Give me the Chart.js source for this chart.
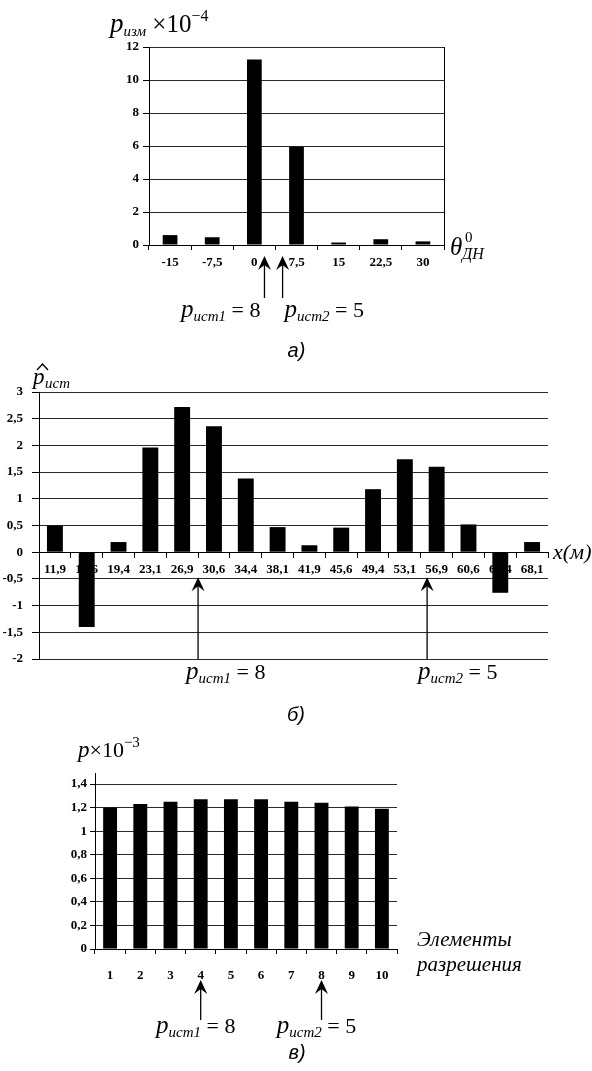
<!DOCTYPE html>
<html lang="ru">
<head>
<meta charset="utf-8">
<title>Оценка мощности источников</title>
<script src="https://cdn.jsdelivr.net/npm/chart.js@4.4.1/dist/chart.umd.min.js"></script>
<style>
    html, body { margin: 0; padding: 0; background: #fff; }
    body { position: relative; width: 592px; height: 1071px; overflow: hidden; }
    canvas { position: absolute; left: 0; }
    #chartA { top: 0; }
    #chartB { top: 355px; }
    #chartC { top: 730px; }
</style>
</head>
<body>
<canvas id="chartA" width="592" height="370"></canvas>
<canvas id="chartB" width="592" height="385"></canvas>
<canvas id="chartC" width="592" height="341"></canvas>
<script>
// а) измеренная мощность по направлениям ДН
const anglesA = ['-15', '-7,5', '0', '7,5', '15', '22,5', '30'];
const powerA = [0.6, 0.47, 11.25, 5.96, 0.15, 0.35, 0.22];
const arrowsA = [2.24, 2.67];   // положения стрелок в долях категорий

// б) оценка мощности по дальности
const coordsB = ['11,9', '15,6', '19,4', '23,1', '26,9', '30,6', '34,4', '38,1',
                 '41,9', '45,6', '49,4', '53,1', '56,9', '60,6', '64,4', '68,1'];
const estimateB = [0.5, -1.4, 0.19, 1.96, 2.72, 2.36, 1.38, 0.47,
                   0.13, 0.46, 1.18, 1.74, 1.6, 0.52, -0.76, 0.19];
const arrowsB = [4.5, 11.7];

// в) мощность по элементам разрешения
const elementsC = ['1', '2', '3', '4', '5', '6', '7', '8', '9', '10'];
const powerC = [1.2, 1.23, 1.25, 1.27, 1.27, 1.27, 1.25, 1.24, 1.21, 1.19];
const arrowsC = [3, 7];

// мощности истинных источников
const sourcePowers = [8, 5];

const SERIF = '"Liberation Serif", "Times New Roman", serif';
const SANS = '"Liberation Sans", Arial, sans-serif';
const tickFont = { family: SERIF, size: 13, weight: 'bold' };

function fmt(v) {
    return String(Math.round(v * 10) / 10).replace('.', ',');
}

// текст из нескольких частей (индексы, степени)
function rich(ctx, x, y, parts, align) {
    let w = 0;
    parts.forEach(p => { ctx.font = p[1]; w += ctx.measureText(p[0]).width; });
    if (align === 'center') x -= w / 2;
    if (align === 'right') x -= w;
    ctx.textAlign = 'left';
    ctx.textBaseline = 'alphabetic';
    parts.forEach(p => {
        ctx.font = p[1];
        ctx.fillText(p[0], x, y + (p[2] || 0));
        x += ctx.measureText(p[0]).width;
    });
}

function sourceLabel(ctx, x, y, n, align) {
    rich(ctx, x, y, [
        ['p', 'italic 25px ' + SERIF],
        ['ист' + n, 'italic 15px ' + SERIF, 4],
        [' = ' + sourcePowers[n - 1], '22px ' + SERIF]
    ], align);
}

function arrow(ctx, x, yTip, yEnd) {
    ctx.strokeStyle = '#000';
    ctx.lineWidth = 1.3;
    ctx.beginPath();
    ctx.moveTo(x, yTip + 8);
    ctx.lineTo(x, yEnd);
    ctx.stroke();
    ctx.beginPath();
    ctx.moveTo(x, yTip);
    ctx.lineTo(x - 6.5, yTip + 14);
    ctx.lineTo(x, yTip + 9);
    ctx.lineTo(x + 6.5, yTip + 14);
    ctx.closePath();
    ctx.fill();
}

function caption(ctx, text, x, y) {
    ctx.font = 'italic 20px ' + SANS;
    ctx.textAlign = 'center';
    ctx.textBaseline = 'middle';
    ctx.fillText(text, x, y);
}

function makeChart(id, labels, values, cfg) {
    const ctx = document.getElementById(id).getContext('2d');
    return new Chart(ctx, {
        type: 'bar',
        data: {
            labels: labels,
            datasets: [{
                data: values,
                backgroundColor: '#000',
                borderWidth: 0,
                categoryPercentage: 1,
                barPercentage: cfg.barPct
            }]
        },
        options: {
            responsive: false,
            animation: false,
            devicePixelRatio: 1,
            layout: { padding: cfg.padding },
            plugins: {
                legend: { display: false },
                tooltip: { enabled: false }
            },
            scales: {
                x: {
                    type: 'category',
                    offset: true,
                    position: cfg.xPos || 'bottom',
                    grid: {
                        offset: true,
                        drawOnChartArea: false,
                        drawTicks: true,
                        tickLength: 5,
                        color: '#000'
                    },
                    border: { display: true, color: '#000', width: 1 },
                    ticks: {
                        font: tickFont,
                        color: '#000',
                        padding: cfg.xPad,
                        maxRotation: 0,
                        autoSkip: false
                    },
                    afterFit: cfg.xHeight ? function(s) { s.height = cfg.xHeight; } : undefined
                },
                y: {
                    min: cfg.yMin,
                    max: cfg.yMax,
                    ticks: {
                        stepSize: cfg.yStep,
                        font: tickFont,
                        color: '#000',
                        padding: cfg.yPad,
                        callback: fmt
                    },
                    grid: {
                        color: '#2a2a2a',
                        lineWidth: 1,
                        drawTicks: true,
                        tickLength: cfg.yTick,
                        tickColor: '#000'
                    },
                    border: { display: true, color: '#000', width: 1 },
                    afterFit: function(s) { s.width = cfg.yWidth; }
                }
            }
        },
        plugins: [{ id: id + 'Notes', afterDraw: cfg.notes }]
    });
}

// а)
makeChart('chartA', anglesA, powerA, {
    barPct: 0.35,
    padding: { left: 104, right: 148, top: 47, bottom: 95 },
    yWidth: 45, yMin: 0, yMax: 12, yStep: 2, yPad: 4, yTick: 6,
    xPad: 5, xHeight: 30,
    notes: function(chart) {
        const ctx = chart.ctx, ca = chart.chartArea, sx = chart.scales.x;
        ctx.save();
        ctx.fillStyle = '#000';
        // рамка справа
        ctx.strokeStyle = '#000';
        ctx.lineWidth = 1;
        ctx.beginPath();
        ctx.moveTo(ca.right + 0.5, ca.top);
        ctx.lineTo(ca.right + 0.5, ca.bottom);
        ctx.stroke();
        rich(ctx, ca.left - 39, ca.top - 15, [
            ['p', 'italic 27px ' + SERIF],
            ['изм', 'italic 15px ' + SERIF, 4],
            [' ×10', '25px ' + SERIF],
            ['−4', '16px ' + SERIF, -11]
        ]);
        const tx = ca.right + 6;
        rich(ctx, tx, ca.bottom + 10, [['θ', 'italic 25px ' + SERIF]]);
        rich(ctx, tx + 15, ca.bottom - 3, [['0', '15px ' + SERIF]]);
        rich(ctx, tx + 12, ca.bottom + 14, [['ДН', 'italic 16px ' + SERIF]]);
        const x1 = sx.getPixelForValue(arrowsA[0]);
        const x2 = sx.getPixelForValue(arrowsA[1]);
        arrow(ctx, x1, ca.bottom + 11, ca.bottom + 53);
        arrow(ctx, x2, ca.bottom + 11, ca.bottom + 53);
        sourceLabel(ctx, x1 - 4, ca.bottom + 72, 1, 'right');
        sourceLabel(ctx, x2 + 2, ca.bottom + 72, 2, 'left');
        caption(ctx, 'а)', (ca.left + ca.right) / 2, 351);
        ctx.restore();
    }
});

// б)
makeChart('chartB', coordsB, estimateB, {
    barPct: 0.5,
    padding: { left: 1, right: 44, top: 37, bottom: 81 },
    yWidth: 38, yMin: -2, yMax: 3, yStep: 0.5, yPad: 9, yTick: 7,
    xPad: 5, xPos: { y: 0 },
    notes: function(chart) {
        const ctx = chart.ctx, ca = chart.chartArea, sx = chart.scales.x, sy = chart.scales.y;
        const y0 = sy.getPixelForValue(0);
        ctx.save();
        ctx.fillStyle = '#000';
        ctx.strokeStyle = '#000';
        const px = ca.left - 6, pb = ca.top - 8;
        rich(ctx, px, pb, [['p', 'italic 23px ' + SERIF]]);
        // крышечка оценки
        ctx.lineWidth = 1.4;
        ctx.beginPath();
        ctx.moveTo(px + 4, pb - 14);
        ctx.lineTo(px + 9.5, pb - 20);
        ctx.lineTo(px + 15, pb - 14);
        ctx.stroke();
        rich(ctx, px + 12, pb + 4, [['ист', 'italic 15px ' + SERIF]]);
        rich(ctx, ca.right + 5, y0 + 7, [['x(м)', 'italic 22px ' + SERIF]]);
        const x1 = sx.getPixelForValue(arrowsB[0]);
        const x2 = sx.getPixelForValue(arrowsB[1]);
        arrow(ctx, x1, y0 + 25, ca.bottom);
        arrow(ctx, x2, y0 + 25, ca.bottom);
        sourceLabel(ctx, x1 - 12, ca.bottom + 20, 1, 'left');
        sourceLabel(ctx, x2 - 9, ca.bottom + 20, 2, 'left');
        caption(ctx, 'б)', 296, 360);
        ctx.restore();
    }
});

// в)
makeChart('chartC', elementsC, powerC, {
    barPct: 0.46,
    padding: { left: 59, right: 195, top: 54, bottom: 82 },
    yWidth: 36, yMin: 0, yMax: 1.4, yStep: 0.2, yPad: 3, yTick: 5,
    xPad: 14, xHeight: 40,
    notes: function(chart) {
        const ctx = chart.ctx, ca = chart.chartArea, sx = chart.scales.x;
        ctx.save();
        ctx.fillStyle = '#000';
        ctx.strokeStyle = '#000';
        ctx.lineWidth = 1;
        ctx.beginPath();
        ctx.moveTo(ca.left + 0.5, ca.top - 11);
        ctx.lineTo(ca.left + 0.5, ca.top);
        ctx.stroke();
        rich(ctx, ca.left - 17, ca.top - 27, [
            ['p', 'italic 23px ' + SERIF],
            ['×10', '22px ' + SERIF],
            ['−3', '15px ' + SERIF, -10]
        ]);
        rich(ctx, ca.right + 20, ca.bottom - 3, [['Элементы', 'italic 21px ' + SERIF]]);
        rich(ctx, ca.right + 20, ca.bottom + 22, [['разрешения', 'italic 21px ' + SERIF]]);
        arrowsC.forEach((pos, i) => {
            const x = sx.getPixelForValue(pos);
            arrow(ctx, x, ca.bottom + 31, ca.bottom + 71);
            sourceLabel(ctx, x - 5, ca.bottom + 84, i + 1, 'center');
        });
        caption(ctx, 'в)', (ca.left + ca.right) / 2 + 51, 323);
        ctx.restore();
    }
});
</script>
</body>
</html>
